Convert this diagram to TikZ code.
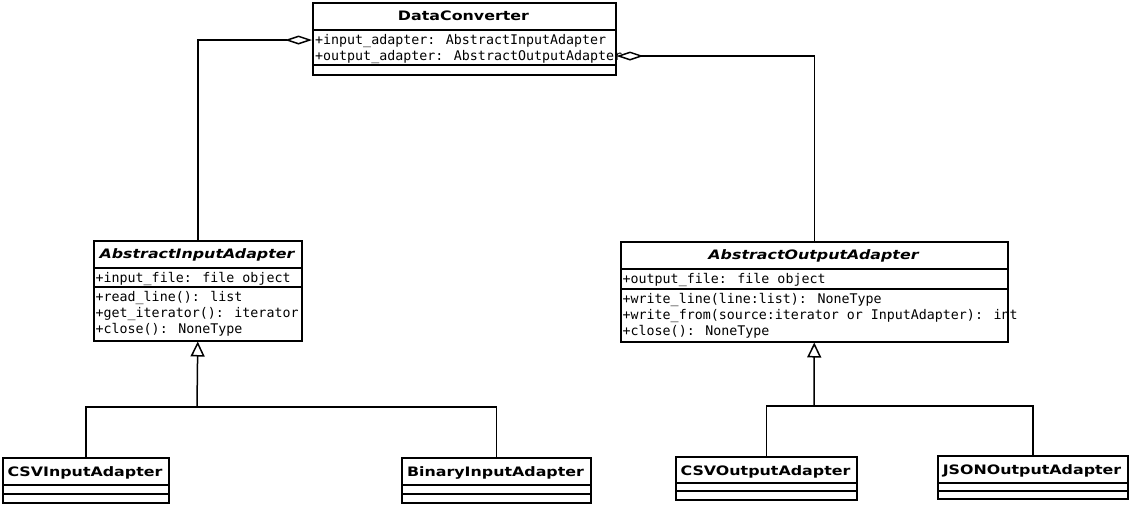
\documentclass[tikz,border=0pt]{standalone}
\usepackage{fontspec}
\newfontfamily\titlef[FakeStretch=1.22]{DejaVu Sans}
\newfontfamily\monof{DejaVu Sans Mono}
\usetikzlibrary{arrows.meta}
\tikzset{
  cls/.style={draw, line width=1.5pt, fill=white, inner sep=0pt, anchor=north west},
  ttl/.style={font=\titlef\bfseries\fontsize{13}{15}\selectfont, inner sep=0pt, anchor=base},
  itl/.style={font=\titlef\bfseries\itshape\fontsize{13}{15}\selectfont, inner sep=0pt, anchor=base},
  mem/.style={font=\monof\fontsize{13.3}{16}\selectfont, inner sep=0pt, anchor=base west},
  divl/.style={line width=1.5pt},
  conn/.style={line width=1.5pt},
  agg/.style={conn, {Diamond[open, length=27pt, width=9pt, line width=1.5pt]}-},
  inh/.style={conn, -{Triangle[open, length=15pt, width=14pt, line width=1.5pt]}},
}
\begin{document}
\begin{tikzpicture}[x=1pt, y=-1pt]
\path[use as bounding box] (0,0) rectangle (1129,504);

% DataConverter
\node[cls, minimum width=303pt, minimum height=72pt] (dc) at (312,2) {};
\node[ttl] (dct) at (463.5,20.5) {DataConverter};
\draw[divl] (dc.west |- 0,30) -- (dc.east |- 0,30);
\draw[divl] (dc.west |- 0,65) -- (dc.east |- 0,65);
\node[mem] (dca1) at (315,44) {+input\_adapter: AbstractInputAdapter};
\node[mem] (dca2) at (315,60) {+output\_adapter: AbstractOutputAdapter};

% AbstractInputAdapter
\node[cls, minimum width=208pt, minimum height=100pt] (aia) at (93,240) {};
\node[itl] (aiat) at (197,258.5) {AbstractInputAdapter};
\draw[divl] (aia.west |- 0,268) -- (aia.east |- 0,268);
\draw[divl] (aia.west |- 0,287) -- (aia.east |- 0,287);
\node[mem] (aia1) at (95.5,282.2) {+input\_file: file object};
\node[mem] (aia2) at (95.5,301.2) {+read\_line(): list};
\node[mem] (aia3) at (95.5,317.2) {+get\_iterator(): iterator};
\node[mem] (aia4) at (95.5,333.2) {+close(): NoneType};

% AbstractOutputAdapter
\node[cls, minimum width=387pt, minimum height=100pt] (aoa) at (620,241) {};
\node[itl] (aoat) at (813.5,259.5) {AbstractOutputAdapter};
\draw[divl] (aoa.west |- 0,269) -- (aoa.east |- 0,269);
\draw[divl] (aoa.west |- 0,289) -- (aoa.east |- 0,289);
\node[mem] (aoa1) at (622.5,283) {+output\_file: file object};
\node[mem] (aoa2) at (622.5,303) {+write\_line(line:list): NoneType};
\node[mem] (aoa3) at (622.5,319) {+write\_from(source:iterator or InputAdapter): int};
\node[mem] (aoa4) at (622.5,335) {+close(): NoneType};

% CSVInputAdapter
\node[cls, minimum width=166pt, minimum height=45pt] (csvi) at (2,457) {};
\node[ttl] (csvit) at (85,476.5) {CSVInputAdapter};
\draw[divl] (csvi.west |- 0,485) -- (csvi.east |- 0,485);
\draw[divl] (csvi.west |- 0,494) -- (csvi.east |- 0,494);

% BinaryInputAdapter
\node[cls, minimum width=189pt, minimum height=45pt] (bini) at (401,457) {};
\node[ttl] (binit) at (495.5,476.5) {BinaryInputAdapter};
\draw[divl] (bini.west |- 0,485) -- (bini.east |- 0,485);
\draw[divl] (bini.west |- 0,494) -- (bini.east |- 0,494);

% CSVOutputAdapter
\node[cls, minimum width=181pt, minimum height=43pt] (csvo) at (675,456) {};
\node[ttl] (csvot) at (765.5,475) {CSVOutputAdapter};
\draw[divl] (csvo.west |- 0,483) -- (csvo.east |- 0,483);
\draw[divl] (csvo.west |- 0,491) -- (csvo.east |- 0,491);

% JSONOutputAdapter
\node[cls, minimum width=190pt, minimum height=43pt] (jsono) at (937,455) {};
\node[ttl] (jsonot) at (1032,474) {JSONOutputAdapter};
\draw[divl] (jsono.west |- 0,483) -- (jsono.east |- 0,483);
\draw[divl] (jsono.west |- 0,491) -- (jsono.east |- 0,491);

% aggregation connectors
\draw[agg] (dc.west |- 0,40) -| (aia.north);
\draw[agg] (dc.east |- 0,56) -| (aoa.north);

% inheritance: inputs
\coordinate (ji) at (197,407);
\draw[conn] (csvi.north) |- (ji) -| (bini.north);
\draw[inh] (ji) -- (aia.south);

% inheritance: outputs
\coordinate (jo) at (814,406);
\draw[conn] (csvo.north) |- (jo) -| (jsono.north);
\draw[inh] (jo) -- (aoa.south);
\end{tikzpicture}
\end{document}
